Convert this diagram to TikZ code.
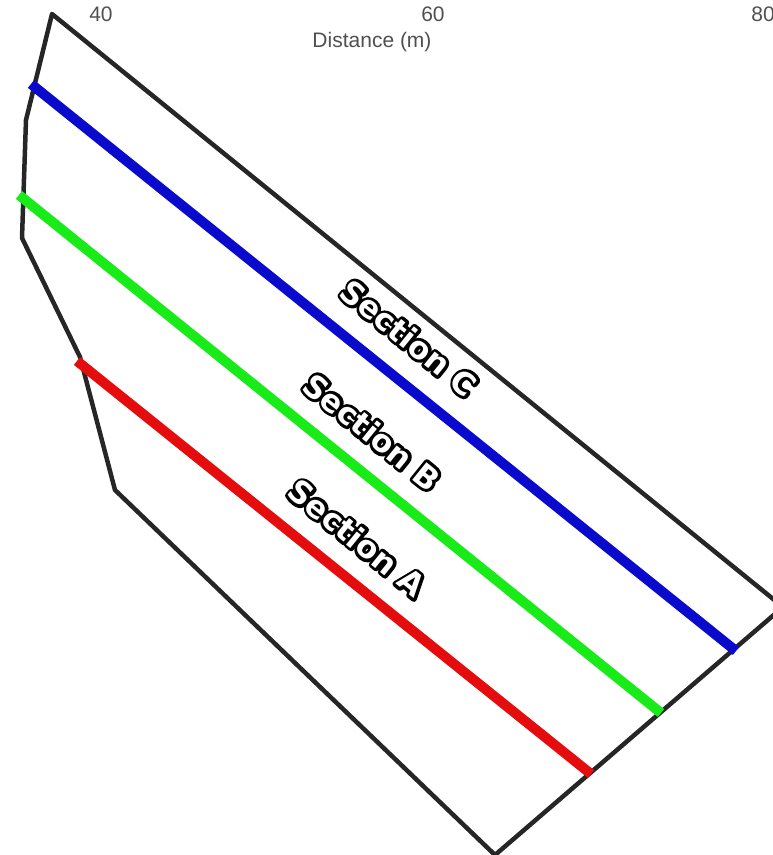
\documentclass[tikz,border=0pt]{standalone}
\usepackage{fontspec}
\setmainfont{Liberation Sans}
\newfontfamily\sectfont{DejaVu Sans}
\definecolor{cutblue}{RGB}{10,10,205}
\definecolor{cutgreen}{RGB}{25,235,25}
\definecolor{cutred}{RGB}{228,12,12}
\definecolor{axisgray}{RGB}{80,80,80}
% halo text: thick stroked copy underneath
\newcommand{\halotext}[1]{\special{pdf:code 2 Tr 6 w 1 j}#1\special{pdf:code 0 Tr}}

\begin{document}
\begin{tikzpicture}[x=1pt,y=-1pt]

\tikzstyle{outline}=[draw=black!85,line width=4.5pt,line join=round]
\tikzstyle{cut}=[line width=10pt]
\tikzstyle{tick}=[text=axisgray,font=\fontsize{21}{24}\selectfont,inner sep=0pt]
\tikzstyle{sect}=[rotate=-39,text=white,font=\sectfont\bfseries\fontsize{31}{34}\selectfont,inner sep=0pt]
\tikzstyle{secthalo}=[sect,text=black]

\useasboundingbox (0,0) rectangle (772,855);

% axis labels
\node (t40) [tick] at (101,14) {40};
\node (t60) [tick] at (433,14) {60};
\node (t80) [tick] at (763,14) {80};
\node (xlabel) [tick] at (372,42) {Distance (m)};

% boundary of the area
\coordinate (top) at (52,14);
\coordinate (rt) at (783,607);
\coordinate (bot) at (495,855);
\coordinate (lb) at (115,490);
\coordinate (lm) at (80,357);
\coordinate (ll) at (22,238);
\coordinate (lu) at (26,120);
\draw[outline] (top) -- (rt) -- (bot) -- (lb) -- (lm) -- (ll) -- (lu) -- cycle;

% section lines
\coordinate (cStart) at (31,84);
\coordinate (cEnd) at (736,651);
\coordinate (bStart) at (19,195);
\coordinate (bEnd) at (661,713);
\coordinate (aStart) at (77,361);
\coordinate (aEnd) at (591,774);
\draw[cut,cutblue] (cStart) -- (cEnd);
\draw[cut,cutgreen] (bStart) -- (bEnd);
\draw[cut,cutred] (aStart) -- (aEnd);

% section names
\node (secChalo) [secthalo] at (409,338) {\halotext{Section C}};
\node (secC) [sect] at (secChalo) {Section C};
\node (secBhalo) [secthalo] at (372,432) {\halotext{Section B}};
\node (secB) [sect] at (secBhalo) {Section B};
\node (secAhalo) [secthalo] at (357,538) {\halotext{Section A}};
\node (secA) [sect] at (secAhalo) {Section A};

\end{tikzpicture}
\end{document}
